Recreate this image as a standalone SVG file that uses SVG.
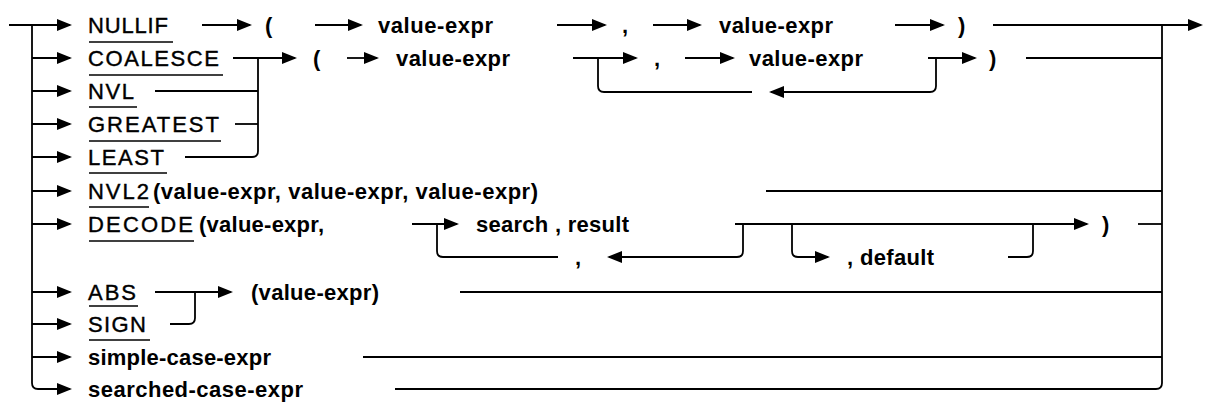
<svg xmlns="http://www.w3.org/2000/svg" width="1206" height="402" viewBox="0 0 1206 402">
<defs>
<style>
.l{fill:none;stroke:#000;stroke-width:1.8}
.a{marker-end:url(#ah)}
.u{stroke:#000;stroke-width:1.6}
.kw{font-family:"Liberation Sans",Arial,sans-serif;font-size:22px;fill:#000;stroke:#000;stroke-width:0.4}
.t{font-family:"Liberation Sans",Arial,sans-serif;font-size:22px;font-weight:bold;fill:#000}
</style>
<marker id="ah" markerUnits="userSpaceOnUse" markerWidth="16" markerHeight="13" refX="13" refY="6" orient="auto" overflow="visible">
<path d="M0,0 L15,6 L0,12 z" fill="#000"/>
</marker>
</defs>
<rect width="1206" height="402" fill="#fff"/>

<g id="connectors">
<path class="l a" d="M9,25 H70"/>
<path class="l a" d="M32,25 V383 Q32,389 38,389 H70"/>
<path class="l a" d="M32,58 H70"/>
<path class="l a" d="M32,91 H70"/>
<path class="l a" d="M32,124 H70"/>
<path class="l a" d="M32,157 H70"/>
<path class="l a" d="M32,191 H70"/>
<path class="l a" d="M32,224 H70"/>
<path class="l a" d="M32,292 H70"/>
<path class="l a" d="M32,324 H70"/>
<path class="l a" d="M32,357 H70"/>

<path class="l a" d="M202,25 H250"/>
<path class="l a" d="M315,25 H361"/>
<path class="l a" d="M557,25 H605"/>
<path class="l a" d="M653,25 H700"/>
<path class="l a" d="M895,25 H943"/>
<path class="l a" d="M993,25 H1201"/>

<path class="l a" d="M233,58 H295"/>
<path class="l a" d="M347,58 H377"/>
<path class="l a" d="M573,58 H636"/>
<path class="l a" d="M685,58 H733"/>
<path class="l a" d="M928,58 H975"/>
<path class="l" d="M1026,58 H1162"/>
<path class="l a" d="M936,58 V86 Q936,92 930,92 H771"/>
<path class="l" d="M752,92 H604 Q598,92 598,86 V58"/>

<path class="l" d="M258,58 V151 Q258,157 252,157 H185"/>
<path class="l" d="M155,91 H258"/>
<path class="l" d="M235,124 H258"/>

<path class="l" d="M766,191 H1162"/>

<path class="l a" d="M412,224 H457"/>
<path class="l" d="M437,224 V251 Q437,257 443,257 H558"/>
<path class="l a" d="M743,224 V251 Q743,257 737,257 H609"/>
<path class="l a" d="M735,224 H1087"/>
<path class="l a" d="M792,224 V251 Q792,257 798,257 H828"/>
<path class="l" d="M1008,257 H1027 Q1033,257 1033,251 V224"/>
<path class="l" d="M1138,224 H1162"/>

<path class="l a" d="M155,292 H231"/>
<path class="l" d="M170,324 H189 Q195,324 195,318 V292"/>
<path class="l" d="M460,292 H1162"/>

<path class="l" d="M363,357 H1162"/>
<path class="l" d="M395,389 H1156 Q1162,389 1162,383 V25"/>
</g>

<g id="nullif">
<text class="kw" x="88" y="33" textLength="80" lengthAdjust="spacing">NULLIF</text>
<line class="u" x1="89" y1="42" x2="173" y2="42"/>
</g>
<g id="coalesce">
<text class="kw" x="88" y="66" textLength="131" lengthAdjust="spacing">COALESCE</text>
<line class="u" x1="89" y1="75" x2="223" y2="75"/>
</g>
<g id="nvl">
<text class="kw" x="88" y="99" textLength="46" lengthAdjust="spacing">NVL</text>
<line class="u" x1="89" y1="107" x2="137" y2="107"/>
</g>
<g id="greatest">
<text class="kw" x="88" y="132" textLength="131" lengthAdjust="spacing">GREATEST</text>
<line class="u" x1="89" y1="141" x2="221" y2="141"/>
</g>
<g id="least">
<text class="kw" x="88" y="165" textLength="76" lengthAdjust="spacing">LEAST</text>
<line class="u" x1="89" y1="173" x2="167" y2="173"/>
</g>
<g id="nvl2">
<text class="kw" x="88" y="199" textLength="61" lengthAdjust="spacing">NVL2</text>
<line class="u" x1="89" y1="207" x2="149" y2="207"/>
<text class="t" x="153" y="199" textLength="385" lengthAdjust="spacing">(value-expr, value-expr, value-expr)</text>
</g>
<g id="decode">
<text class="kw" x="88" y="232" textLength="105" lengthAdjust="spacing">DECODE</text>
<line class="u" x1="89" y1="241" x2="194" y2="241"/>
<text class="t" x="199" y="232" textLength="125" lengthAdjust="spacing">(value-expr,</text>
</g>
<g id="abs">
<text class="kw" x="88" y="300" textLength="48" lengthAdjust="spacing">ABS</text>
<line class="u" x1="89" y1="306" x2="138" y2="306"/>
</g>
<g id="sign">
<text class="kw" x="88" y="332" textLength="58" lengthAdjust="spacing">SIGN</text>
<line class="u" x1="89" y1="340" x2="150" y2="340"/>
</g>
<g id="simple-case">
<text class="t" x="88" y="365" textLength="183" lengthAdjust="spacing">simple-case-expr</text>
</g>
<g id="searched-case">
<text class="t" x="88" y="397" textLength="215" lengthAdjust="spacing">searched-case-expr</text>
</g>

<g id="r1-open"><text class="t" x="265" y="33">(</text></g>
<g id="r1-expr1"><text class="t" x="378" y="33" textLength="115" lengthAdjust="spacing">value-expr</text></g>
<g id="r1-comma"><text class="t" x="622" y="33">,</text></g>
<g id="r1-expr2"><text class="t" x="719" y="33" textLength="114" lengthAdjust="spacing">value-expr</text></g>
<g id="r1-close"><text class="t" x="958" y="33">)</text></g>

<g id="r2-open"><text class="t" x="313" y="66">(</text></g>
<g id="r2-expr1"><text class="t" x="396" y="66" textLength="114" lengthAdjust="spacing">value-expr</text></g>
<g id="r2-comma"><text class="t" x="654" y="66">,</text></g>
<g id="r2-expr2"><text class="t" x="749" y="66" textLength="114" lengthAdjust="spacing">value-expr</text></g>
<g id="r2-close"><text class="t" x="989" y="66">)</text></g>

<g id="decode-pair"><text class="t" x="476" y="232" textLength="153" lengthAdjust="spacing">search , result</text></g>
<g id="decode-sep"><text class="t" x="575" y="265">,</text></g>
<g id="decode-default"><text class="t" x="847" y="265" textLength="87" lengthAdjust="spacing">, default</text></g>
<g id="decode-close"><text class="t" x="1102" y="232">)</text></g>

<g id="abs-arg"><text class="t" x="251" y="300" textLength="128" lengthAdjust="spacing">(value-expr)</text></g>
</svg>
